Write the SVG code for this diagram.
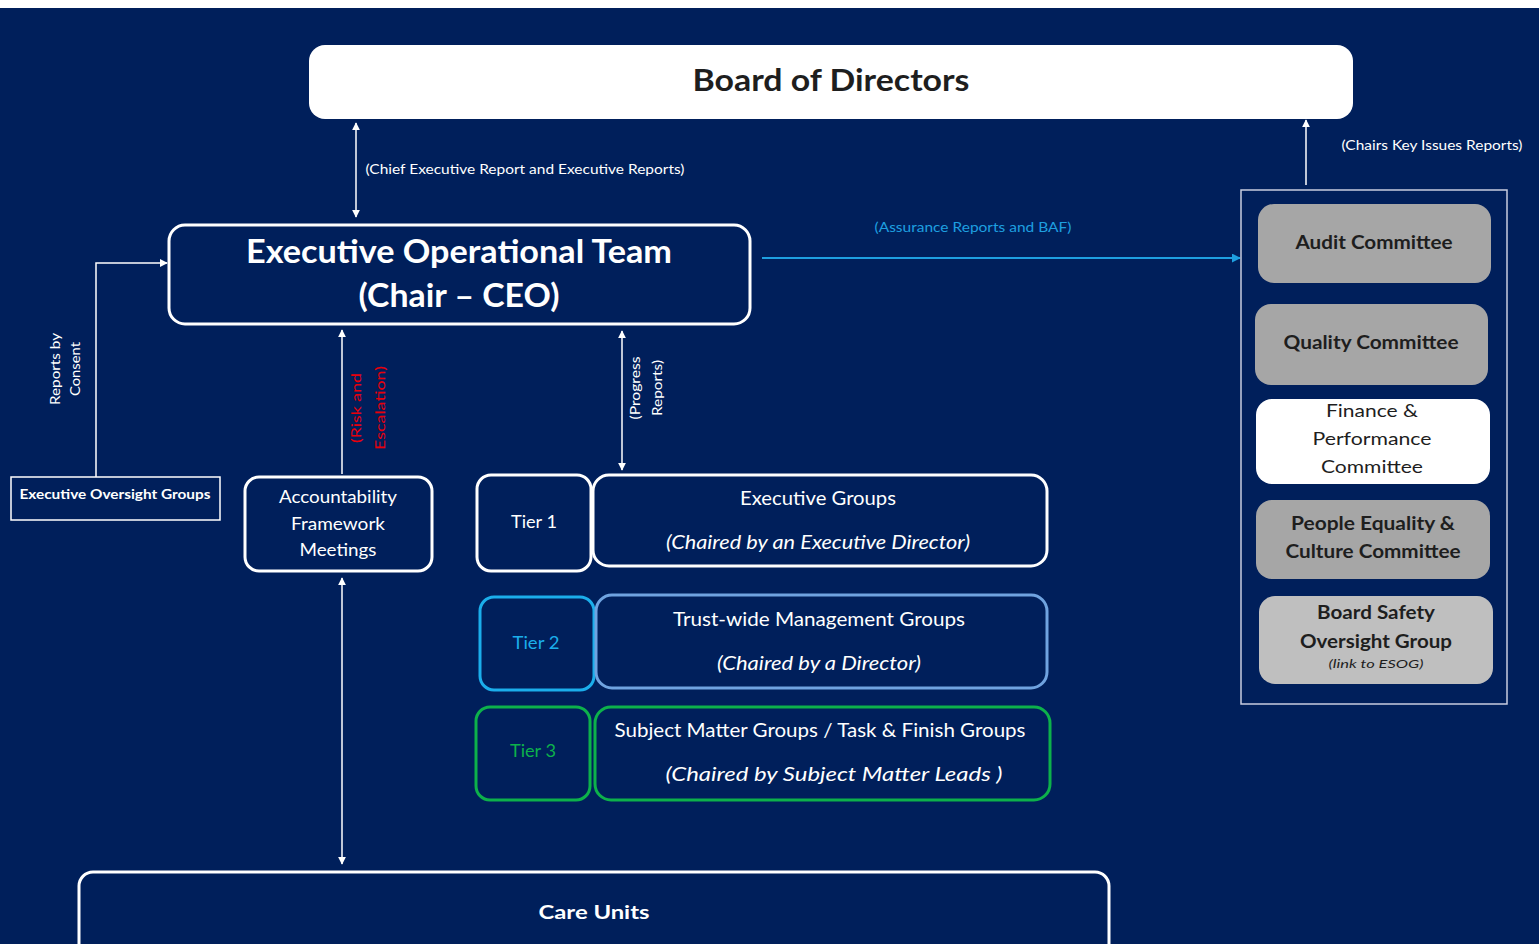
<svg xmlns="http://www.w3.org/2000/svg" width="1539" height="944" viewBox="0 0 1539 944">
<style>
text{font-family:Lato,"Noto Sans","Liberation Sans",sans-serif;text-anchor:middle}
.w{fill:#ffffff}
.k{fill:#1e1e1e}
.b{font-weight:bold}
.i{font-style:italic}
.nb{fill:#001f5b;stroke:#ffffff;stroke-width:3}
.gc{fill:#a6a6a6}
.ln{stroke:#ffffff;stroke-width:1.5;fill:none}
.bl{stroke:#1e9fe0;stroke-width:2;fill:none}
</style>
<defs>
<marker id="ah" viewBox="0 0 10 10" refX="9" refY="5" markerWidth="8" markerHeight="8" markerUnits="userSpaceOnUse" orient="auto-start-reverse"><path d="M0,0L10,5L0,10Z" fill="#ffffff"/></marker>
<marker id="ahb" viewBox="0 0 10 10" refX="9" refY="5" markerWidth="9" markerHeight="9" markerUnits="userSpaceOnUse" orient="auto"><path d="M0,0L10,5L0,10Z" fill="#1e9fe0"/></marker>
</defs>
<rect x="0" y="0" width="1539" height="944" fill="#ffffff"/>
<rect x="0" y="8" width="1539" height="936" fill="#001f5b"/>

<g id="connectors">
<line class="ln" x1="356" y1="123" x2="356" y2="217" marker-start="url(#ah)" marker-end="url(#ah)"/>
<text class="w" x="525" y="174" font-size="13" textLength="319" lengthAdjust="spacingAndGlyphs">(Chief Executive Report and Executive Reports)</text>
<line class="ln" x1="1306" y1="185" x2="1306" y2="120" marker-end="url(#ah)"/>
<text class="w" x="1432" y="150" font-size="13" textLength="181" lengthAdjust="spacingAndGlyphs">(Chairs Key Issues Reports)</text>
<line class="bl" x1="762" y1="258" x2="1240" y2="258" marker-end="url(#ahb)"/>
<text x="973" y="232" font-size="13" fill="#1e9fe0" textLength="197" lengthAdjust="spacingAndGlyphs">(Assurance Reports and BAF)</text>
<polyline class="ln" points="96,477 96,263 167,263" marker-end="url(#ah)"/>
<g transform="translate(60,369) rotate(-90)"><text class="w" x="0" y="0" font-size="13" textLength="72" lengthAdjust="spacingAndGlyphs">Reports by</text></g>
<g transform="translate(80,369) rotate(-90)"><text class="w" x="0" y="0" font-size="13" textLength="54" lengthAdjust="spacingAndGlyphs">Consent</text></g>
<line class="ln" x1="342" y1="474" x2="342" y2="330" marker-end="url(#ah)"/>
<g transform="translate(361,408) rotate(-90)"><text x="0" y="0" font-size="14" fill="#e8000b" textLength="70" lengthAdjust="spacingAndGlyphs">(Risk and</text></g>
<g transform="translate(385,408) rotate(-90)"><text x="0" y="0" font-size="14" fill="#e8000b" textLength="84" lengthAdjust="spacingAndGlyphs">Escalation)</text></g>
<line class="ln" x1="622" y1="331" x2="622" y2="470" marker-start="url(#ah)" marker-end="url(#ah)"/>
<g transform="translate(640,388) rotate(-90)"><text class="w" x="0" y="0" font-size="13" textLength="63" lengthAdjust="spacingAndGlyphs">(Progress</text></g>
<g transform="translate(662,388) rotate(-90)"><text class="w" x="0" y="0" font-size="13" textLength="56" lengthAdjust="spacingAndGlyphs">Reports)</text></g>
<line class="ln" x1="342" y1="578" x2="342" y2="864" marker-start="url(#ah)" marker-end="url(#ah)"/>
</g>

<g id="board">
<rect x="309" y="45" width="1044" height="74" rx="16" fill="#ffffff"/>
<text class="k b" x="831" y="91" font-size="30" textLength="277" lengthAdjust="spacingAndGlyphs">Board of Directors</text>
</g>

<g id="eot">
<rect class="nb" x="169" y="225" width="581" height="99" rx="16"/>
<text class="w b" x="459" y="263" font-size="32" textLength="426" lengthAdjust="spacingAndGlyphs">Executive Operational Team</text>
<text class="w b" x="459" y="307" font-size="32" textLength="201" lengthAdjust="spacingAndGlyphs">(Chair – CEO)</text>
</g>

<g id="eog">
<rect x="11" y="477" width="209" height="43" fill="#001f5b" stroke="#ffffff" stroke-width="1.5"/>
<text class="w b" x="115" y="499" font-size="13" textLength="191" lengthAdjust="spacingAndGlyphs">Executive Oversight Groups</text>
</g>

<g id="afm">
<rect class="nb" x="245" y="477" width="187" height="94" rx="14"/>
<text class="w" x="338" y="503" font-size="17" textLength="118" lengthAdjust="spacingAndGlyphs">Accountability</text>
<text class="w" x="338" y="530" font-size="17" textLength="94" lengthAdjust="spacingAndGlyphs">Framework</text>
<text class="w" x="338" y="556" font-size="17" textLength="77" lengthAdjust="spacingAndGlyphs">Meetings</text>
</g>

<g id="tier1">
<rect class="nb" x="477" y="475" width="114" height="96" rx="14"/>
<text class="w" x="534" y="528" font-size="17" textLength="46" lengthAdjust="spacingAndGlyphs">Tier 1</text>
</g>
<g id="exec-groups">
<rect class="nb" x="593" y="475" width="454" height="91" rx="16"/>
<text class="w" x="818" y="505" font-size="19" textLength="156" lengthAdjust="spacingAndGlyphs">Executive Groups</text>
<text class="w i" x="818" y="549" font-size="19" textLength="304" lengthAdjust="spacingAndGlyphs">(Chaired by an Executive Director)</text>
</g>

<g id="tier2">
<rect x="480" y="597" width="114" height="93" rx="14" fill="#001f5b" stroke="#1baeeb" stroke-width="3"/>
<text x="536" y="649" font-size="17" fill="#1baeeb" textLength="47" lengthAdjust="spacingAndGlyphs">Tier 2</text>
</g>
<g id="trust-wide">
<rect x="596" y="595" width="451" height="93" rx="16" fill="#001f5b" stroke="#6fa3e0" stroke-width="3"/>
<text class="w" x="819" y="626" font-size="19" textLength="292" lengthAdjust="spacingAndGlyphs">Trust-wide Management Groups</text>
<text class="w i" x="819" y="670" font-size="19" textLength="204" lengthAdjust="spacingAndGlyphs">(Chaired by a Director)</text>
</g>

<g id="tier3">
<rect x="476" y="707" width="114" height="93" rx="14" fill="#001f5b" stroke="#0db14b" stroke-width="3"/>
<text x="533" y="757" font-size="17" fill="#0db14b" textLength="46" lengthAdjust="spacingAndGlyphs">Tier 3</text>
</g>
<g id="subject-matter">
<rect x="595" y="707" width="455" height="93" rx="16" fill="#001f5b" stroke="#0db14b" stroke-width="3"/>
<text class="w" x="820" y="737" font-size="19" textLength="411" lengthAdjust="spacingAndGlyphs">Subject Matter Groups / Task &amp; Finish Groups</text>
<text class="w i" x="834" y="781" font-size="19" textLength="337" lengthAdjust="spacingAndGlyphs">(Chaired by Subject Matter Leads )</text>
</g>

<g id="care-units">
<rect class="nb" x="79" y="872" width="1030" height="100" rx="14"/>
<text class="w b" x="594" y="919" font-size="19" textLength="111" lengthAdjust="spacingAndGlyphs">Care Units</text>
</g>

<g id="committees">
<rect x="1241" y="190" width="266" height="514" fill="none" stroke="#c8cde0" stroke-width="1.5"/>
</g>
<g id="audit">
<rect class="gc" x="1258" y="204" width="233" height="79" rx="16"/>
<text class="k b" x="1374" y="249" font-size="19" textLength="157" lengthAdjust="spacingAndGlyphs">Audit Committee</text>
</g>
<g id="quality">
<rect class="gc" x="1255" y="304" width="233" height="81" rx="16"/>
<text class="k b" x="1371" y="349" font-size="19" textLength="175" lengthAdjust="spacingAndGlyphs">Quality Committee</text>
</g>
<g id="finance">
<rect x="1256" y="399" width="234" height="85" rx="16" fill="#ffffff"/>
<text class="k" x="1372" y="417" font-size="18" textLength="92" lengthAdjust="spacingAndGlyphs">Finance &amp;</text>
<text class="k" x="1372" y="445" font-size="18" textLength="119" lengthAdjust="spacingAndGlyphs">Performance</text>
<text class="k" x="1372" y="473" font-size="18" textLength="102" lengthAdjust="spacingAndGlyphs">Committee</text>
</g>
<g id="people">
<rect class="gc" x="1256" y="500" width="234" height="79" rx="16"/>
<text class="k b" x="1373" y="530" font-size="19" textLength="164" lengthAdjust="spacingAndGlyphs">People Equality &amp;</text>
<text class="k b" x="1373" y="558" font-size="19" textLength="175" lengthAdjust="spacingAndGlyphs">Culture Committee</text>
</g>
<g id="board-safety">
<rect x="1259" y="596" width="234" height="88" rx="16" fill="#bfbfbf"/>
<text class="k b" x="1376" y="619" font-size="19" textLength="118" lengthAdjust="spacingAndGlyphs">Board Safety</text>
<text class="k b" x="1376" y="648" font-size="19" textLength="152" lengthAdjust="spacingAndGlyphs">Oversight Group</text>
<text class="k i" x="1376" y="668" font-size="12" textLength="95" lengthAdjust="spacingAndGlyphs">(link to ESOG)</text>
</g>
</svg>
